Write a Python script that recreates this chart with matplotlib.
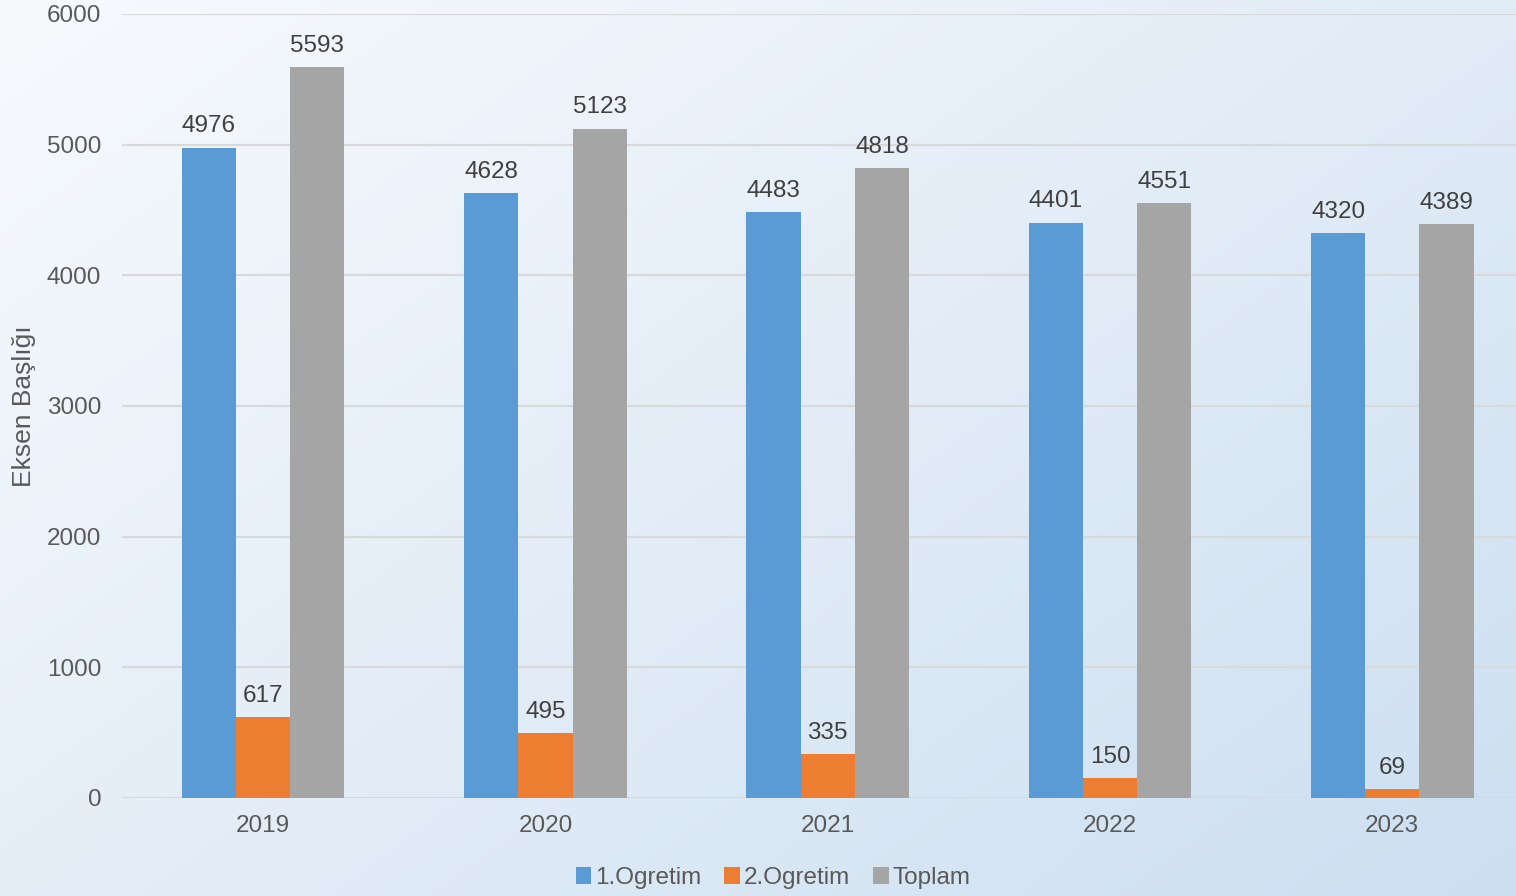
import numpy as np
import matplotlib
matplotlib.use("Agg")
import matplotlib.pyplot as plt
from matplotlib.colors import LinearSegmentedColormap

plt.rcParams['font.family'] = ['Liberation Sans', 'DejaVu Sans']

# data
years = ['2019', '2020', '2021', '2022', '2023']
ogretim1 = [4976, 4628, 4483, 4401, 4320]
ogretim2 = [617, 495, 335, 150, 69]
toplam = [5593, 5123, 4818, 4551, 4389]
series_names = ['1.Ogretim', '2.Ogretim', 'Toplam']
colors = ['#5B9BD5', '#ED7D31', '#A5A5A5']
text_col = '#595959'
fs = 17.5

fig = plt.figure(figsize=(15.16, 8.96), dpi=100)

# gradient background
bg = fig.add_axes([0, 0, 1, 1], zorder=-10)
gx, gy = np.meshgrid(np.linspace(0, 1, 300), np.linspace(0, 1, 200))
grad = (gx * 0.55 + gy * 0.45)
cmap = LinearSegmentedColormap.from_list('bg', ['#F7FAFD', '#E3EDF7', '#CCDFF1'])
bg.imshow(grad, cmap=cmap, aspect='auto', extent=[0, 1, 0, 1], origin='upper')
bg.axis('off')

ax = fig.add_axes([0.0805, 0.1094, 0.931, 0.875])
ax.set_facecolor('none')

x = np.arange(len(years))
w = 0.192
for i, (vals, name) in enumerate(zip([ogretim1, ogretim2, toplam], series_names)):
    bars = ax.bar(x + (i - 1) * w, vals, width=w, color=colors[i], label=name, zorder=3)
    for b, v in zip(bars, vals):
        ax.text(b.get_x() + b.get_width() / 2, v + 80, str(v), ha='center', va='bottom',
                fontsize=fs, color='#404040', zorder=4)

ax.set_xlim(-0.5, 4.5)
ax.set_ylim(0, 6000)
ax.set_yticks(np.arange(0, 6001, 1000))
ax.set_xticks(x)
ax.set_xticklabels(years)
ax.grid(axis='y', color='#D9D9D9', linewidth=1.6, zorder=0)
for s in ax.spines.values():
    s.set_visible(False)
ax.tick_params(axis='both', length=0, labelsize=fs, labelcolor=text_col)
ax.tick_params(axis='y', pad=15)
ax.tick_params(axis='x', pad=12)
ax.set_ylabel('Eksen Başlığı', fontsize=19, color=text_col)
ax.yaxis.set_label_coords(-0.061, 0.5)

fig.legend(*ax.get_legend_handles_labels(), loc='center', bbox_to_anchor=(0.51, 0.02),
           ncol=3, frameon=False, fontsize=fs, labelcolor=text_col,
           handlelength=0.65, handleheight=0.65, handletextpad=0.15, columnspacing=0.95)

fig.savefig('out.png', dpi=100)
